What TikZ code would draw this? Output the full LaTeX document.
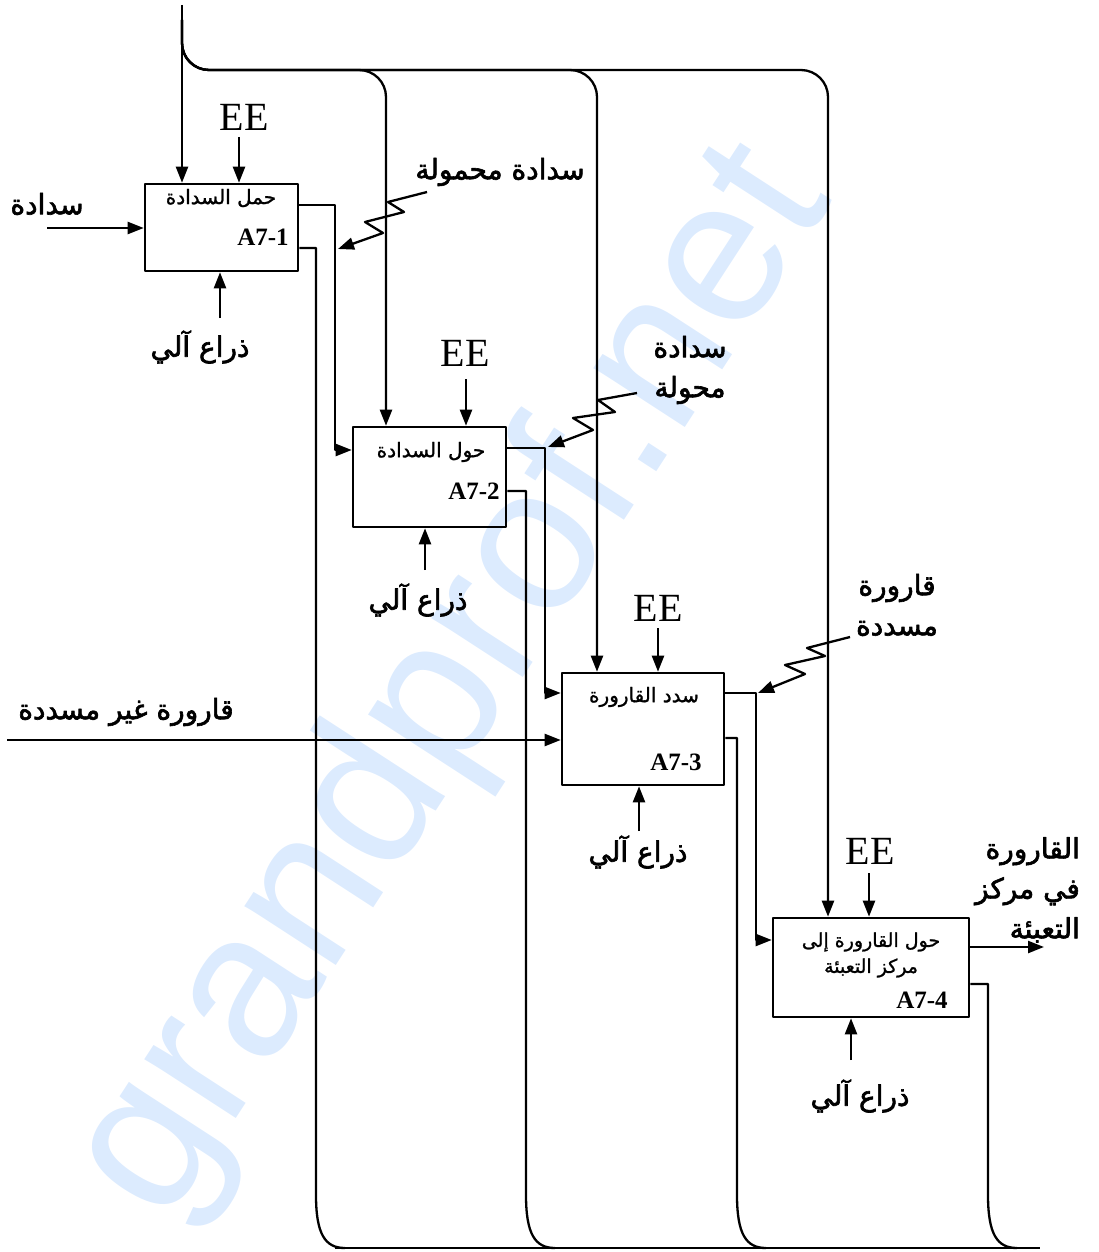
\documentclass[tikz,border=0pt]{standalone}
\usepackage{fontspec}
\setmainfont{Liberation Serif}
\newfontfamily\ar[Script=Arabic,FakeBold=1.2]{DejaVu Sans}
\newfontfamily\arb[Script=Arabic,FakeBold=2.2]{DejaVu Sans}
\newfontfamily\wmfont{Liberation Sans}
\TeXXeTstate=1
\usetikzlibrary{arrows.meta,calc}
\definecolor{wm}{RGB}{220,235,254}
\begin{document}
\begin{tikzpicture}[x=1pt,y=-1pt,
  line width=2.3pt, line join=round,
  arr/.style={-{Triangle[length=16pt,width=12pt]}},
  procbox/.style={draw, line width=2.6pt, inner sep=0pt},
  ee/.style={font=\fontsize{40}{40}\selectfont, inner sep=0pt},
  code/.style={font=\bfseries\fontsize{25}{25}\selectfont, inner sep=0pt},
  lbl/.style={font=\arb\fontsize{28}{40}\selectfont, inner sep=0pt, align=center},
  ttl/.style={font=\ar\fontsize{20}{26}\selectfont, inner sep=0pt, align=center},
  bot/.style={line width=2.3pt},
]
\useasboundingbox (0,0) rectangle (1098,1252);
% watermark
\node[rotate=57, text=wm, font=\wmfont\fontsize{206}{206}\selectfont, inner sep=0pt] (wmark) at (455,684) {grandprof.net};

% boxes
\node[procbox, minimum width=153pt, minimum height=87pt] (b1) at (221.5,227.5) {};
\node[procbox, minimum width=153pt, minimum height=100pt] (b2) at (429.5,477) {};
\node[procbox, minimum width=162pt, minimum height=112pt] (b3) at (643,729) {};
\node[procbox, minimum width=196pt, minimum height=99pt] (b4) at (871,967.5) {};

% box texts
\node[ttl] (t1) at (221,198) {\beginR حمل السدادة\endR};
\node[code] (c1) at (263,237) {A7-1};
\node[ttl] (t2) at (431,452) {\beginR حول السدادة\endR};
\node[code] (c2) at (474,491) {A7-2};
\node[ttl] (t3) at (644,697) {\beginR سدد القارورة\endR};
\node[code] (c3) at (676,762) {A7-3};
\node[ttl, font=\ar\fontsize{19}{26}\selectfont] (t4) at (871,955) {\beginR حول القارورة إلى\endR\\\beginR مركز التعبئة\endR};
\node[code] (c4) at (922,1000) {A7-4};

% control: top line
\coordinate (top) at (182,5);
\draw[arr] (top) -- (b1.north -| top);
\draw[arr, rounded corners=27] (182,20) |- (386,70) -- (b2.north -| 386,0);
\draw[arr, rounded corners=27] (182,20) |- (597,70) -- (b3.north -| 597,0);
\draw[arr, rounded corners=27] (182,20) |- (828,70) -- (b4.north -| 828,0);

% EE controls
\node[ee] (e1) at (244,117) {EE};
\draw[arr] (239,137) -- (b1.north -| 239,0);
\node[ee] (e2) at (465,353) {EE};
\draw[arr] (466,379) -- (b2.north -| 466,0);
\node[ee] (e3) at (658,608) {EE};
\draw[arr] (658,628) -- (b3.north -| 658,0);
\node[ee] (e4) at (870,851) {EE};
\draw[arr] (869,873) -- (b4.north -| 869,0);

% inputs
\node[lbl] (in1) at (47,204) {\beginR سدادة\endR};
\coordinate (in1s) at (47,228);
\draw[arr] (in1s) -- (b1.west |- in1s);
\node[lbl] (in3) at (126,712) {\beginR قارورة غير مسددة\endR};
\coordinate (in3s) at (7,740);
\draw[arr] (in3s) -- (b3.west |- in3s);

% mechanisms
\node[lbl] (m1) at (200,347) {\beginR ذراع آلي\endR};
\draw[arr] (220,318) -- (b1.south -| 220,0);
\node[lbl] (m2) at (418,600) {\beginR ذراع آلي\endR};
\draw[arr] (425,570) -- (b2.south -| 425,0);
\node[lbl] (m3) at (638,852) {\beginR ذراع آلي\endR};
\draw[arr] (639,831) -- (b3.south -| 639,0);
\node[lbl] (m4) at (860,1096) {\beginR ذراع آلي\endR};
\draw[arr] (851,1060) -- (b4.south -| 851,0);

% outputs between boxes
\draw[arr] (b1.east |- 0,205) -- (335,205) |- (b2.west |- 0,450);
\draw[arr] (b2.east |- 0,448) -- (545,448) |- (b3.west |- 0,693);
\draw[arr] (b3.east |- 0,693) -- (756,693) |- (b4.west |- 0,940);
\coordinate (outend) at (1044,947);
\draw[arr] (b4.east |- outend) -- (outend);
\node[lbl, align=right, anchor=north east] (out4) at (1081,836) {\beginR القارورة\endR\\\beginR في مركز\endR\\\beginR التعبئة\endR};

% feedback lines to bottom
\coordinate (bend) at (1040,1248);
\draw[bot] (b1.east |- 0,248) -| (316,1195) .. controls (316,1234) and (325,1248) .. (345,1248);
\draw[bot] (b2.east |- 0,491) -| (526,1195) .. controls (526,1234) and (535,1248) .. (555,1248);
\draw[bot] (b3.east |- 0,738) -| (737,1195) .. controls (737,1234) and (746,1248) .. (766,1248);
\draw[bot] (b4.east |- 0,984) -| (988,1195) .. controls (988,1234) and (997,1248) .. (1017,1248);
\draw[bot] (335,1248) -- (bend);

% squiggle labels
\node[lbl] (s1) at (500,172) {\beginR سدادة محمولة\endR};
\coordinate (s1a) at (427,192);
\coordinate (s1t) at (338,249);
\draw[arr] (s1a) -- (388,202) -- (404,212) -- (365,222) -- (383,233) -- (s1t);
\node[lbl] (s2) at (690,370) {\beginR سدادة\endR\\\beginR محولة\endR};
\coordinate (s2a) at (637,393);
\coordinate (s2t) at (548,447);
\draw[arr] (s2a) -- (598,400) -- (615,412) -- (573,418) -- (593,430) -- (s2t);
\node[lbl] (s3) at (897,605) {\beginR قارورة\endR\\\beginR مسددة\endR};
\coordinate (s3a) at (850,637);
\coordinate (s3t) at (758,693);
\draw[arr] (s3a) -- (807,648) -- (825,656) -- (785,665) -- (805,674) -- (s3t);
\end{tikzpicture}
\end{document}
